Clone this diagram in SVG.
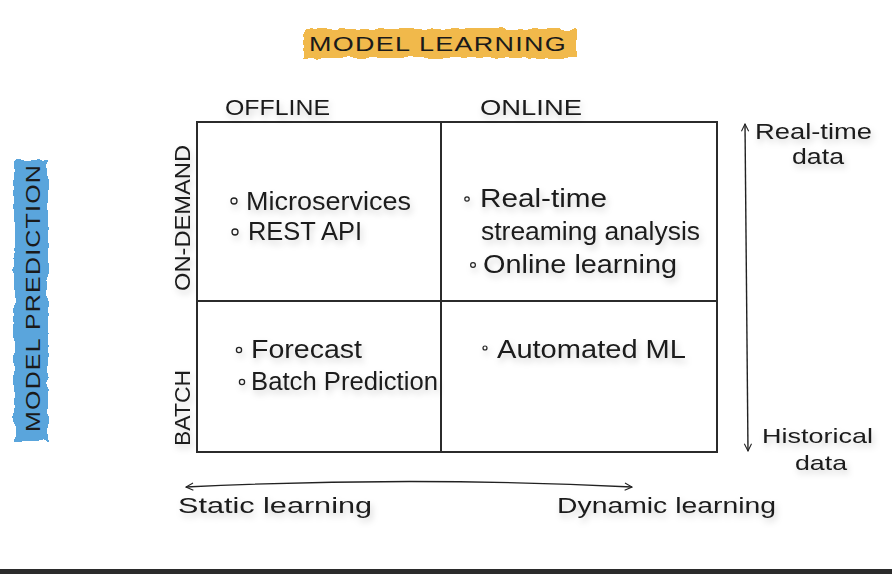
<svg xmlns="http://www.w3.org/2000/svg" width="892" height="574" viewBox="0 0 892 574">
<defs>
<filter id="rough" x="-10%" y="-30%" width="120%" height="160%">
<feTurbulence type="fractalNoise" baseFrequency="0.08" numOctaves="2" seed="3"/>
<feDisplacementMap in="SourceGraphic" scale="7" xChannelSelector="R" yChannelSelector="G"/>
</filter>
<filter id="shade" x="-10%" y="-40%" width="120%" height="180%">
<feGaussianBlur in="SourceAlpha" stdDeviation="3"/>
<feOffset dx="2" dy="4" result="b"/>
<feFlood flood-color="#000" flood-opacity="0.18"/>
<feComposite in2="b" operator="in" result="s"/>
<feMerge><feMergeNode in="s"/><feMergeNode in="SourceGraphic"/></feMerge>
</filter>
<marker id="ah" viewBox="0 0 10 10" refX="9" refY="5" markerWidth="9" markerHeight="9" orient="auto-start-reverse" markerUnits="userSpaceOnUse">
<path d="M1,1 L9,5 L1,9" fill="none" stroke="#222" stroke-width="1.2"/>
</marker>
<style>
text{font-family:"Liberation Sans","DejaVu Sans",sans-serif;fill:#1a1a1a;}
.cap{font-size:21px;letter-spacing:1px;}
.cell{font-size:26px;}
.ax{font-size:22px;}
.sm{font-size:21px;}
.ln{stroke:#2b2b2b;stroke-width:2;fill:none;}
.arr{stroke:#222;stroke-width:1.4;fill:none;}
.sh{filter:url(#shade);}
</style>
</defs>
<rect width="892" height="574" fill="#ffffff"/>
<rect x="0" y="569" width="892" height="5" fill="#2b2b2b"/>

<g id="model-learning">
<rect x="304" y="29" width="273" height="29" fill="#F1B94C" filter="url(#rough)"/>
<text class="cap" x="309" y="51" textLength="258" lengthAdjust="spacingAndGlyphs">MODEL  LEARNING</text>
</g>

<g id="model-prediction">
<rect x="14" y="160" width="34" height="281" fill="#5AA5DC" filter="url(#rough)"/>
<text class="cap" transform="translate(40,432) rotate(-90)" x="0" y="0" textLength="268" lengthAdjust="spacingAndGlyphs">MODEL  PREDICTION</text>
</g>

<g id="grid">
<rect x="197" y="122" width="520" height="330" class="ln"/>
<line x1="441" y1="122" x2="441" y2="452" class="ln"/>
<line x1="197" y1="301" x2="717" y2="301" class="ln"/>
</g>

<g id="col-offline" class="sh"><text class="ax" x="225" y="115" textLength="105" lengthAdjust="spacingAndGlyphs">OFFLINE</text></g>
<g id="col-online" class="sh"><text class="ax" x="480" y="115" textLength="102" lengthAdjust="spacingAndGlyphs">ONLINE</text></g>
<g id="row-ondemand" class="sh"><text class="ax" transform="translate(190,291) rotate(-90)" textLength="146" lengthAdjust="spacingAndGlyphs">ON-DEMAND</text></g>
<g id="row-batch" class="sh"><text class="ax" transform="translate(190,446) rotate(-90)" textLength="76" lengthAdjust="spacingAndGlyphs">BATCH</text></g>

<g id="cell-offline-ondemand" class="sh">
<circle cx="234" cy="201" r="3" fill="none" stroke="#222" stroke-width="1.3"/>
<text class="cell" x="246" y="210" textLength="165" lengthAdjust="spacingAndGlyphs">Microservices</text>
<circle cx="235" cy="232" r="3" fill="none" stroke="#222" stroke-width="1.3"/>
<text class="cell" x="248" y="240" textLength="114" lengthAdjust="spacingAndGlyphs">REST API</text>
</g>

<g id="cell-online-ondemand" class="sh">
<circle cx="467" cy="199" r="2.2" fill="none" stroke="#222" stroke-width="1.2"/>
<text class="cell" x="480" y="207" textLength="127" lengthAdjust="spacingAndGlyphs">Real-time</text>
<text class="cell" x="481" y="240" textLength="219" lengthAdjust="spacingAndGlyphs">streaming analysis</text>
<circle cx="473" cy="265" r="2.4" fill="none" stroke="#222" stroke-width="1.2"/>
<text class="cell" x="483" y="273" textLength="194" lengthAdjust="spacingAndGlyphs">Online learning</text>
</g>

<g id="cell-offline-batch" class="sh">
<circle cx="239" cy="350" r="2.6" fill="none" stroke="#222" stroke-width="1.3"/>
<text class="cell" x="251" y="358" textLength="111" lengthAdjust="spacingAndGlyphs">Forecast</text>
<circle cx="242" cy="382" r="2.6" fill="none" stroke="#222" stroke-width="1.3"/>
<text class="cell" x="251" y="390" textLength="187" lengthAdjust="spacingAndGlyphs">Batch Prediction</text>
</g>

<g id="cell-online-batch" class="sh">
<circle cx="485" cy="348" r="2" fill="none" stroke="#222" stroke-width="1.2"/>
<text class="cell" x="497" y="358" textLength="189" lengthAdjust="spacingAndGlyphs">Automated ML</text>
</g>

<g id="connectors">
<line x1="745" y1="124" x2="748" y2="451" class="arr" marker-start="url(#ah)" marker-end="url(#ah)"/>
<path d="M186,487 Q410,476 632,487" class="arr" marker-start="url(#ah)" marker-end="url(#ah)"/>
</g>

<g id="label-realtime" class="sh">
<text class="ax" x="755" y="139" textLength="117" lengthAdjust="spacingAndGlyphs">Real-time</text>
<text class="ax" x="792" y="164" textLength="52" lengthAdjust="spacingAndGlyphs">data</text>
</g>
<g id="label-historical" class="sh">
<text class="sm" x="762" y="443" textLength="111" lengthAdjust="spacingAndGlyphs">Historical</text>
<text class="sm" x="795" y="470" textLength="52" lengthAdjust="spacingAndGlyphs">data</text>
</g>
<g id="label-static" class="sh"><text class="ax" x="178" y="513" textLength="194" lengthAdjust="spacingAndGlyphs">Static learning</text></g>
<g id="label-dynamic" class="sh"><text class="ax" x="557" y="513" textLength="219" lengthAdjust="spacingAndGlyphs">Dynamic learning</text></g>
</svg>
